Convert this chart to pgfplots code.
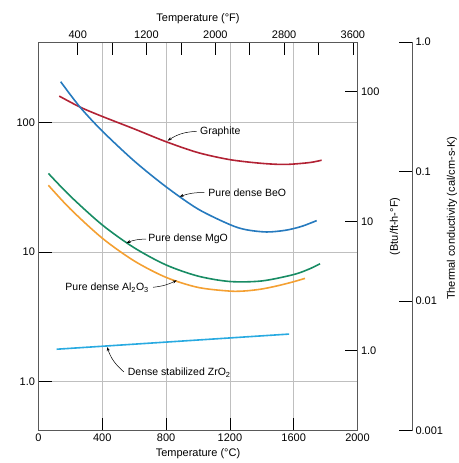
\documentclass[border=0pt]{standalone}
\usepackage{pgfplots}
\pgfplotsset{compat=1.18}
\usepackage{fontspec}
\setmainfont{Liberation Sans}
\usetikzlibrary{arrows.meta}
\definecolor{cgraph}{RGB}{178,34,52}
\definecolor{cbeo}{RGB}{38,122,190}
\definecolor{cmgo}{RGB}{24,140,100}
\definecolor{calo}{RGB}{244,160,50}
\definecolor{czro}{RGB}{40,170,225}
\newcommand{\tfont}{\fontsize{11}{13}\selectfont}
\newcommand{\afont}{\fontsize{10.5}{12}\selectfont}
\pgfplotsset{
  common/.style={scale only axis, width=319pt, height=388.7pt,
    axis line style={black!65, line width=0.9pt},
    major tick style={black, line width=0.7pt},
    tick align=inside, major tick length=13pt,
    ticklabel style={font=\tfont},
    label style={font=\tfont},
    /pgf/number format/assume math mode=true,
    yminorticks=false, xminorticks=false},
}
\begin{document}
\begin{tikzpicture}
\begin{axis}[common, name=main, at={(0,0)}, anchor=south west,
  xmin=0, xmax=2000, ymode=log, ymin=0.4184, ymax=418.4,
  xtick={0,400,800,1200,1600,2000}, xticklabels={0,400,800,1200,1600,2000},
  ytick={1,10,100}, yticklabels={1.0,10,100},
  xtick pos=bottom, ytick pos=left,
  grid=major, major grid style={black!25, line width=0.6pt},
  xlabel={Temperature (°C)},
  every axis plot/.append style={line width=1.6pt, smooth, no markers},
]
\addplot[cgraph] coordinates {(130,160) (260,131.7) (400,111.4) (600,89.3) (800,71.1) (1000,58.6) (1200,51.7) (1400,48.4) (1550,47.5) (1700,49.1) (1775,51.2)};
\addplot[cbeo] coordinates {(139,206.6) (260,131.7) (400,85.9) (600,50.5) (800,31.9) (1000,21.5) (1200,16.3) (1300,14.9) (1430,14.3) (1550,14.75) (1650,15.8) (1744,17.5)};
\addplot[cmgo] coordinates {(62,40.5) (200,27.0) (400,16.2) (600,10.8) (800,7.96) (1000,6.53) (1200,5.93) (1400,5.99) (1600,6.71) (1700,7.43) (1765,8.13)};
\addplot[calo] coordinates {(62,32.8) (200,21.5) (400,12.8) (600,8.55) (800,6.38) (1000,5.34) (1200,5.00) (1300,5.02) (1400,5.19) (1500,5.50) (1600,5.91) (1671,6.27)};
\addplot[czro] coordinates {(114,1.78) (1571,2.33)};
% annotations
\node[anchor=west, font=\afont, inner sep=1pt] at (axis cs:1006,85.5) {Graphite};
\draw[-{Stealth[length=4pt,width=3pt]}, line width=0.5pt] (axis cs:992,85.5) to[bend right=15] (axis cs:810,72.5);
\node[anchor=west, font=\afont, inner sep=1pt] at (axis cs:1058,28.5) {Pure dense BeO};
\draw[-{Stealth[length=4pt,width=3pt]}, line width=0.5pt] (axis cs:1040,28.8) to[bend right=10] (axis cs:885,26.8);
\node[anchor=west, font=\afont, inner sep=1pt] at (axis cs:682,12.6) {Pure dense MgO};
\draw[-{Stealth[length=4pt,width=3pt]}, line width=0.5pt] (axis cs:675,12.6) to[bend right=10] (axis cs:552,11.8);
\node[anchor=east, font=\afont, inner sep=1pt] at (axis cs:699,5.3) {Pure dense Al\textsubscript{2}O\textsubscript{3}};
\draw[-{Stealth[length=4pt,width=3pt]}, line width=0.5pt] (axis cs:718,5.35) to[bend right=10] (axis cs:866,6.05);
\node[anchor=west, font=\afont, inner sep=1pt] at (axis cs:553,1.17) {Dense stabilized ZrO\textsubscript{2}};
\draw[-{Stealth[length=4pt,width=3pt]}, line width=0.5pt] (axis cs:535,1.19) to[bend left=15] (axis cs:430,1.85);
\end{axis}
% top axis (deg F)
\begin{axis}[common, at={(main.south west)}, anchor=south west,
  xmin=0, xmax=2000, ymin=0, ymax=1,
  axis x line*=top, hide y axis,
  xtick={246,462,677,893,1109,1324,1540,1755,1971},
  xticklabels={400,,1200,,2000,,2800,,3600},
  xlabel={Temperature (°F)},
]
\end{axis}
% right inner axis (Btu)
\begin{axis}[common, at={(main.south west)}, anchor=south west,
  xmin=0, xmax=1, ymode=log, ymin=0.24175, ymax=241.75,
  axis y line*=right, hide x axis,
  ytick={1,10,100}, yticklabels={1.0,10,100},
]
\end{axis}
% far right axis (cal)
\begin{axis}[common, width=1pt, at={(main.south east)}, anchor=south west, xshift=53.5pt,
  xmin=0, xmax=1, ymode=log, ymin=0.001, ymax=1,
  axis y line*=right, hide x axis,
  ytick={0.001,0.01,0.1,1}, yticklabels={0.001,0.01,0.1,1.0},
]
\end{axis}
\node[rotate=90, font=\tfont] at ([xshift=37.5pt, yshift=10pt]main.east) {(Btu/ft-h-°F)};
\node[rotate=90, font=\tfont] at ([xshift=94.5pt, yshift=18pt]main.east) {Thermal conductivity (cal/cm-s-K)};
\pgfresetboundingbox
\path[use as bounding box] ([shift={(-38.5pt,-32.3pt)}]main.south west) rectangle ([shift={(101.5pt,42pt)}]main.north east);
\end{tikzpicture}
\end{document}
